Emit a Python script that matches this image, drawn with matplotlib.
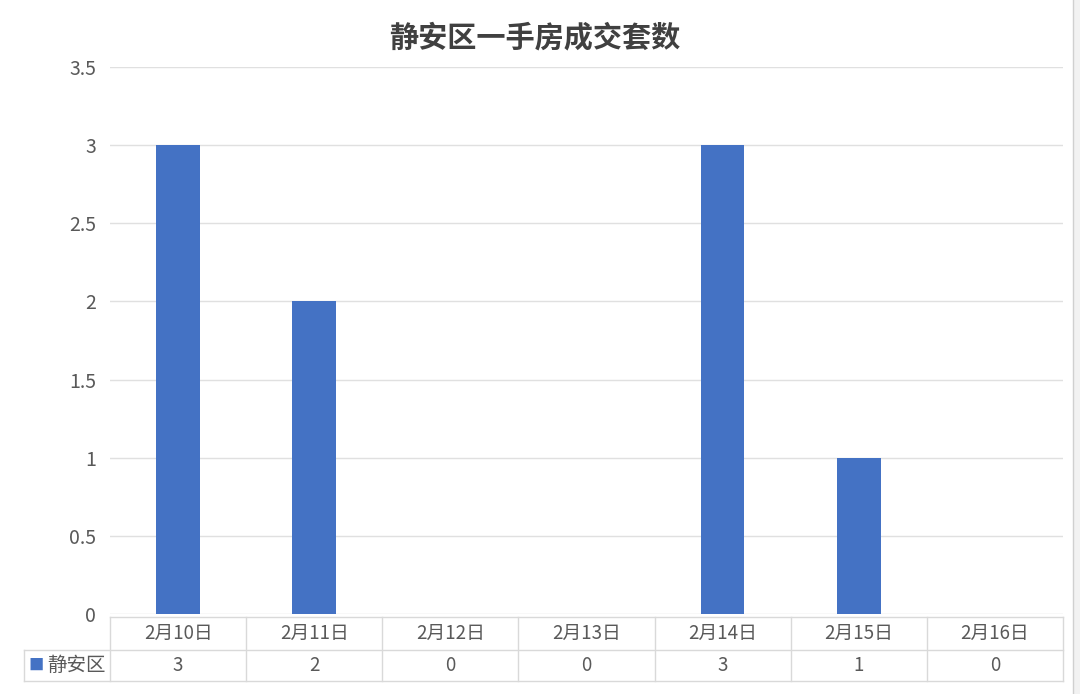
import matplotlib.pyplot as plt
from matplotlib.ticker import FuncFormatter

plt.rcParams['font.family'] = ['Noto Sans CJK SC', 'DejaVu Sans']

# 数据
dates = ['2月10日', '2月11日', '2月12日', '2月13日', '2月14日', '2月15日', '2月16日']
counts = [3, 2, 0, 0, 3, 1, 0]
series_name = '静安区'
title = '静安区一手房成交套数'

bar_color = '#4472C4'
grid_color = '#E0E0E0'
text_color = '#595959'

fig = plt.figure(figsize=(10.8, 6.94), dpi=100)
ax = fig.add_axes([110 / 1080, 1 - 614 / 694, (1063 - 110) / 1080, (614 - 67) / 694])

x = range(len(dates))
ax.bar(x, counts, width=0.32, color=bar_color, zorder=3)

ax.set_xlim(-0.5, len(dates) - 0.5)
ax.set_ylim(0, 3.5)
ax.set_yticks([0, 0.5, 1, 1.5, 2, 2.5, 3, 3.5])
ax.yaxis.set_major_formatter(FuncFormatter(lambda v, p: '%g' % v))
ax.tick_params(axis='y', length=0, pad=10, labelsize=14, labelcolor=text_color)
ax.set_xticks([])
ax.grid(axis='y', color=grid_color, linewidth=1, zorder=0)
for s in ax.spines.values():
    s.set_visible(False)

fig.suptitle(title, x=535 / 1080, y=1 - 37 / 694, va='center',
             fontsize=21, fontweight='bold', color='#404040')

# 数据表
tr = ax.get_xaxis_transform()
h = 547.0
r0 = -3 / h
r1 = -36 / h
r2 = -67 / h
left_leg = -0.5 - 86 / 136
right = len(dates) - 0.5
lw = 1
lc = '#D9D9D9'
ax.plot([-0.5, right], [r0, r0], color=lc, lw=lw, transform=tr, clip_on=False)
ax.plot([left_leg, right], [r1, r1], color=lc, lw=lw, transform=tr, clip_on=False)
ax.plot([left_leg, right], [r2, r2], color=lc, lw=lw, transform=tr, clip_on=False)
for i in range(len(dates) + 1):
    xe = i - 0.5
    ax.plot([xe, xe], [r0, r2], color=lc, lw=lw, transform=tr, clip_on=False)
ax.plot([left_leg, left_leg], [r1, r2], color=lc, lw=lw, transform=tr, clip_on=False)

for i, (d, c) in enumerate(zip(dates, counts)):
    ax.text(i, (r0 + r1) / 2, d, transform=tr, ha='center', va='center',
            fontsize=13.5, color=text_color)
    ax.text(i, (r1 + r2) / 2, str(c), transform=tr, ha='center', va='center',
            fontsize=13.5, color=text_color)

# 图例
ax.text(left_leg + 5 / 136, (r1 + r2) / 2, '■', transform=tr, ha='left', va='center',
        fontsize=11, color=bar_color)
ax.text(-0.5 - 4 / 136, (r1 + r2) / 2, series_name, transform=tr, ha='right', va='center',
        fontsize=14, color=text_color)

# 右侧边框
fig.add_artist(plt.Line2D([1073 / 1080, 1073 / 1080], [0, 1], color='#D0D0D0', lw=1))
fig.add_artist(plt.Rectangle((1074 / 1080, 0), 6 / 1080, 1, color='#F2F2F2', lw=0))

fig.savefig('out.png', dpi=100)
